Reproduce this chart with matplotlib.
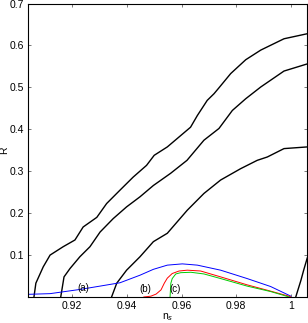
import numpy as np
import matplotlib.pyplot as plt

plt.rcParams['font.family'] = ['Liberation Sans', 'DejaVu Sans']

# ----------------------------
# Data
# ----------------------------
# black contours
ns_k1 = [0.906, 0.9067, 0.9094, 0.9119, 0.9167, 0.921, 0.924, 0.929, 0.9326, 0.9375,
         0.9423, 0.9472, 0.950, 0.9548, 0.9633, 0.9658, 0.9694, 0.9719, 0.9737, 0.978,
         0.9835, 0.989, 0.9975, 1.006]
r_k1 = [0.0, 0.033, 0.072, 0.100, 0.120, 0.136, 0.167, 0.190, 0.223, 0.255,
        0.286, 0.314, 0.338, 0.358, 0.405, 0.433, 0.469, 0.485, 0.499, 0.533,
        0.566, 0.589, 0.616, 0.628]

ns_k2 = [0.9158, 0.917, 0.9192, 0.9228, 0.9265, 0.9302, 0.935, 0.9399, 0.9448, 0.9497,
         0.9560, 0.962, 0.9682, 0.9737, 0.9786, 0.9835, 0.989, 0.9975, 1.006]
r_k2 = [0.0, 0.048, 0.068, 0.096, 0.120, 0.155, 0.187, 0.215, 0.239, 0.266,
         0.295, 0.326, 0.374, 0.402, 0.445, 0.473, 0.501, 0.539, 0.556]

ns_k3 = [0.9344, 0.9363, 0.9399, 0.9448, 0.9497, 0.9548, 0.9621, 0.9682, 0.9743, 0.9816,
         0.9877, 0.9914, 0.9975, 1.006]
r_k3 = [0.0, 0.033, 0.064, 0.096, 0.132, 0.152, 0.207, 0.247, 0.279, 0.306,
        0.326, 0.334, 0.354, 0.358]

ns_k4 = [1.0018, 1.0037, 1.0047, 1.006]
r_k4 = [0.0, 0.040, 0.064, 0.093]

# (a) blue
ns_a = [0.904, 0.9119, 0.9228, 0.9302, 0.9375, 0.9448, 0.9497, 0.9548, 0.9603, 0.9658,
        0.9743, 0.984, 0.9926, 1.0]
r_a = [0.0064, 0.008, 0.018, 0.026, 0.034, 0.052, 0.066, 0.076, 0.079, 0.076,
       0.064, 0.044, 0.025, 0.002]

# (b) red
ns_b = [0.9462, 0.9488, 0.9507, 0.9525, 0.9537, 0.9548, 0.9566, 0.9591, 0.9621, 0.967,
        0.9743, 0.984, 0.9926, 0.9998]
r_b = [0.0, 0.002, 0.007, 0.017, 0.033, 0.045, 0.056, 0.062, 0.064, 0.062,
       0.048, 0.029, 0.014, 0.001]

# (c) green
ns_c = [0.9558, 0.9561, 0.9566, 0.9579, 0.9597, 0.9634, 0.9682, 0.9743, 0.984, 0.9926,
        0.9994]
r_c = [0.0, 0.033, 0.044, 0.055, 0.058, 0.059, 0.055, 0.044, 0.026, 0.013, 0.0]

# ----------------------------
# Plot
# ----------------------------
fig = plt.figure(figsize=(3.08, 3.23), dpi=100)
ax = fig.add_axes([0.0925, 0.0805, 0.905, 0.9085])

for x, y in [(ns_k1, r_k1), (ns_k2, r_k2), (ns_k3, r_k3), (ns_k4, r_k4)]:
    ax.plot(x, y, color='black', lw=1.0)
ax.plot(ns_a, r_a, color='blue', lw=0.7)
ax.plot(ns_b, r_b, color='red', lw=0.7)
ax.plot(ns_c, r_c, color='#00cc00', lw=0.7)

ax.text(0.9242, 0.0225, '(a)', fontsize=7, ha='center', va='center')
ax.text(0.9468, 0.0185, '(b)', fontsize=7, ha='center', va='center')
ax.text(0.9578, 0.0185, '(c)', fontsize=7, ha='center', va='center')

ax.set_xlim(0.904, 1.006)
ax.set_ylim(0, 0.7)
ax.set_xticks([0.92, 0.94, 0.96, 0.98, 1.0])
ax.set_xticklabels(['0.92', '0.94', '0.96', '0.98', '1'])
ax.set_yticks([0.1, 0.2, 0.3, 0.4, 0.5, 0.6, 0.7])
ax.tick_params(direction='in', top=True, right=True, length=2.5, width=0.5,
               labelsize=7.5, pad=3, colors='#444444', labelcolor='black')
for s in ax.spines.values():
    s.set_linewidth(0.8)

ax.set_xlabel('n$_s$', fontsize=7.5, labelpad=0)
ax.set_ylabel('R', fontsize=7.5)
ax.yaxis.set_label_coords(-0.068, 0.5)

plt.savefig('out.png', dpi=100)
